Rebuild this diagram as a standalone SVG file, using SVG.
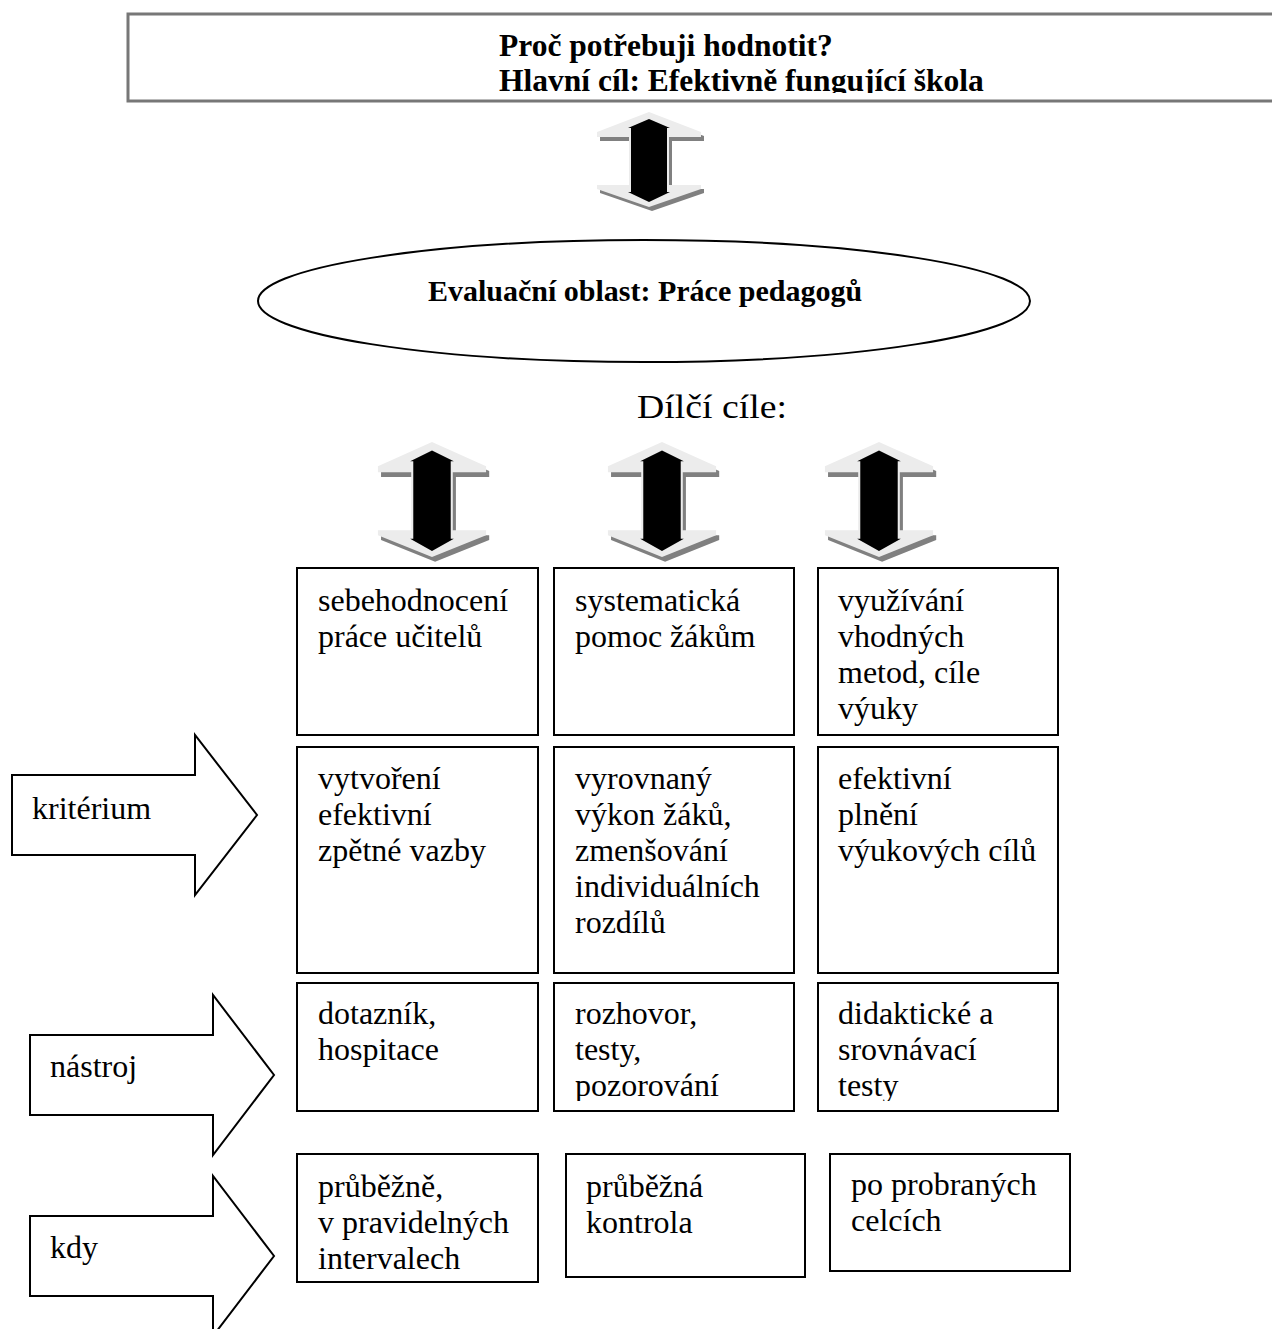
<svg xmlns="http://www.w3.org/2000/svg" width="1272" height="1329" viewBox="0 0 1272 1329">
<style>
text{font-family:"Liberation Serif","Times New Roman",serif;fill:#000}
.t{font-size:32px}
.b{font-weight:bold}
.box{fill:#fff;stroke:#000;stroke-width:2}
.harrow{fill:#fff;stroke:#000;stroke-width:2;stroke-linejoin:miter}
.sh{fill:#808080}
.lt{fill:#ececec}
.bk{fill:#000}
</style>
<defs>
<clipPath id="clipTitle"><rect x="128" y="14" width="1200" height="79"/></clipPath>
<clipPath id="clipR3"><rect x="0" y="983" width="1272" height="118"/></clipPath>
<g id="udarrow">
<polygon class="sh" transform="translate(3,4)" points="0,0 52,20 52,25 20,25 20,73 52,73 52,77 0,95 -52,77 -52,73 -20,73 -20,25 -52,25 -52,20"/>
<polygon class="lt" points="0,0 52,20 52,25 20,25 20,73 52,73 52,77 0,95 -52,77 -52,73 -20,73 -20,25 -52,25 -52,20"/>
<polygon class="bk" points="0,7 21,16 18,16 18,80 21,80 0,90 -21,80 -18,80 -18,16 -21,16"/>
</g>
</defs>

<g id="title">
<rect x="128" y="14" width="1200" height="87" fill="#fff" stroke="#777" stroke-width="3"/>
<g clip-path="url(#clipTitle)">
<text class="b" x="499" y="56" font-size="31.5">Proč potřebuji hodnotit?</text>
<text class="b" x="499" y="91" font-size="31.5">Hlavní cíl: Efektivně fungující škola</text>
</g>
</g>

<g id="connectors">
<use href="#udarrow" transform="translate(649,112)"/>
<use href="#udarrow" transform="translate(432,442) scale(1.04,1.21)"/>
<use href="#udarrow" transform="translate(662,442) scale(1.04,1.21)"/>
<use href="#udarrow" transform="translate(879,442) scale(1.04,1.21)"/>
</g>

<g id="oblast">
<ellipse cx="644" cy="301" rx="386" ry="61" fill="#fff" stroke="#000" stroke-width="2"/>
<text class="b" x="645" y="301" font-size="30" text-anchor="middle">Evaluační oblast: Práce pedagogů</text>
</g>

<g id="dilci">
<text x="637" y="418" font-size="34" textLength="150" lengthAdjust="spacingAndGlyphs">Dílčí cíle:</text>
</g>

<g id="kriterium">
<polygon class="harrow" points="12,775 195,775 195,735 257,815 195,895 195,855 12,855"/>
<text class="t" x="32" y="819">kritérium</text>
</g>
<g id="nastroj">
<polygon class="harrow" points="30,1035 213,1035 213,995 274,1075 213,1155 213,1115 30,1115"/>
<text class="t" x="50" y="1077">nástroj</text>
</g>
<g id="kdy">
<polygon class="harrow" points="30,1216 213,1216 213,1176 274,1256 213,1336 213,1296 30,1296"/>
<text class="t" x="50" y="1258">kdy</text>
</g>

<g id="r1c1"><rect class="box" x="297" y="568" width="241" height="167"/>
<text class="t" x="318" y="611">sebehodnocení</text><text class="t" x="318" y="647">práce učitelů</text></g>
<g id="r1c2"><rect class="box" x="554" y="568" width="240" height="167"/>
<text class="t" x="575" y="611">systematická</text><text class="t" x="575" y="647">pomoc žákům</text></g>
<g id="r1c3"><rect class="box" x="818" y="568" width="240" height="167"/>
<text class="t" x="838" y="611">využívání</text><text class="t" x="838" y="647">vhodných</text><text class="t" x="838" y="683">metod, cíle</text><text class="t" x="838" y="719">výuky</text></g>

<g id="r2c1"><rect class="box" x="297" y="747" width="241" height="226"/>
<text class="t" x="318" y="789">vytvoření</text><text class="t" x="318" y="825">efektivní</text><text class="t" x="318" y="861">zpětné vazby</text></g>
<g id="r2c2"><rect class="box" x="554" y="747" width="240" height="226"/>
<text class="t" x="575" y="789">vyrovnaný</text><text class="t" x="575" y="825">výkon žáků,</text><text class="t" x="575" y="861">zmenšování</text><text class="t" x="575" y="897">individuálních</text><text class="t" x="575" y="933">rozdílů</text></g>
<g id="r2c3"><rect class="box" x="818" y="747" width="240" height="226"/>
<text class="t" x="838" y="789">efektivní</text><text class="t" x="838" y="825">plnění</text><text class="t" x="838" y="861">výukových cílů</text></g>

<g id="r3c1"><rect class="box" x="297" y="983" width="241" height="128"/>
<g clip-path="url(#clipR3)"><text class="t" x="318" y="1024">dotazník,</text><text class="t" x="318" y="1060">hospitace</text></g></g>
<g id="r3c2"><rect class="box" x="554" y="983" width="240" height="128"/>
<g clip-path="url(#clipR3)"><text class="t" x="575" y="1024">rozhovor,</text><text class="t" x="575" y="1060">testy,</text><text class="t" x="575" y="1096">pozorování</text></g></g>
<g id="r3c3"><rect class="box" x="818" y="983" width="240" height="128"/>
<g clip-path="url(#clipR3)"><text class="t" x="838" y="1024">didaktické a</text><text class="t" x="838" y="1060">srovnávací</text><text class="t" x="838" y="1096">testy</text></g></g>

<g id="r4c1"><rect class="box" x="297" y="1154" width="241" height="128"/>
<text class="t" x="318" y="1197">průběžně,</text><text class="t" x="318" y="1233">v pravidelných</text><text class="t" x="318" y="1269">intervalech</text></g>
<g id="r4c2"><rect class="box" x="566" y="1154" width="239" height="123"/>
<text class="t" x="586" y="1197">průběžná</text><text class="t" x="586" y="1233">kontrola</text></g>
<g id="r4c3"><rect class="box" x="830" y="1154" width="240" height="117"/>
<text class="t" x="851" y="1195">po probraných</text><text class="t" x="851" y="1231">celcích</text></g>
</svg>
